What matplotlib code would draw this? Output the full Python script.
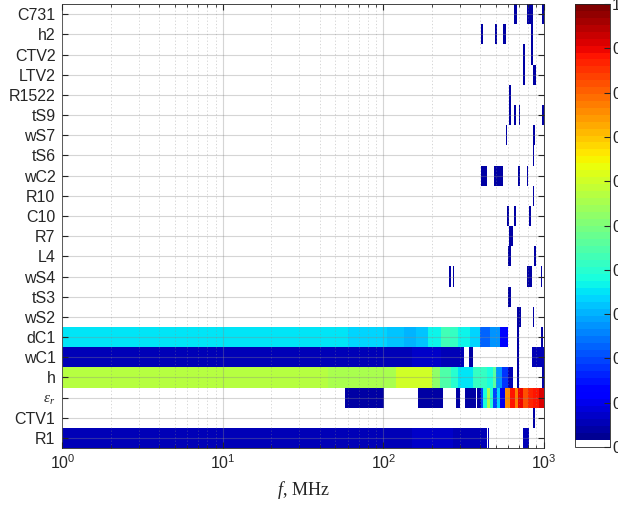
import numpy as np
import matplotlib
matplotlib.use('Agg')
import matplotlib.pyplot as plt
from matplotlib.colors import ListedColormap

# parameter names, top row first
params = ['C731', 'h2', 'CTV2', 'LTV2', 'R1522', 'tS9', 'wS7', 'tS6', 'wC2', 'R10',
          'C10', 'R7', 'L4', 'wS4', 'tS3', 'wS2', 'dC1', 'wC1', 'h', r'$\epsilon_r$',
          'CTV1', 'R1']

# (f_low MHz, f_high MHz, sensitivity) for each parameter
C731 = [(655, 680, 0.04), (790, 850, 0.04), (975, 1000, 0.04)]
h2 = [(403, 419, 0.04), (495, 508, 0.04), (555, 580, 0.04), (830, 860, 0.04)]
CTV2 = [(740, 760, 0.04), (830, 860, 0.04)]
LTV2 = [(740, 760, 0.04), (860, 890, 0.04)]
R1522 = [(605, 625, 0.04)]
tS9 = [(605, 625, 0.04), (655, 670, 0.04), (700, 715, 0.04), (975, 1000, 0.04)]
wS7 = [(580, 592, 0.04), (860, 885, 0.04)]
tS6 = [(850, 870, 0.04)]
wC2 = [(403, 440, 0.04), (490, 560, 0.04), (695, 712, 0.04), (780, 800, 0.04)]
R10 = [(850, 870, 0.04)]
C10 = [(590, 605, 0.04), (650, 670, 0.04), (810, 835, 0.04)]
R7 = [(610, 640, 0.04)]
L4 = [(600, 625, 0.04), (870, 890, 0.04)]
wS4 = [(257, 263, 0.04), (270, 277, 0.04), (780, 845, 0.04), (955, 980, 0.04)]
tS3 = [(600, 625, 0.04)]
wS2 = [(680, 720, 0.04), (855, 870, 0.04)]
dC1 = [(1, 30, 0.35), (30, 60, 0.345), (60, 105, 0.34), (105, 135, 0.32), (135, 160, 0.30),
       (160, 190, 0.32), (190, 230, 0.37), (230, 260, 0.43), (260, 290, 0.41),
       (290, 345, 0.37), (345, 400, 0.33), (400, 460, 0.22), (460, 530, 0.28),
       (530, 600, 0.13), (685, 700, 0.04), (955, 985, 0.04)]
wC1 = [(1, 150, 0.05), (150, 230, 0.07), (230, 307, 0.055), (310, 316, 0.05),
       (343, 360, 0.04), (685, 700, 0.04), (845, 1000, 0.05)]
h = [(1, 45, 0.57), (45, 120, 0.56), (120, 200, 0.60), (200, 225, 0.52), (225, 265, 0.45),
     (265, 290, 0.40), (290, 360, 0.35), (360, 440, 0.41), (440, 480, 0.38),
     (480, 505, 0.46), (505, 550, 0.28), (550, 600, 0.18), (600, 640, 0.06),
     (685, 700, 0.04), (975, 1000, 0.04)]
eps_r = [(57.5, 101, 0.04), (165, 236, 0.04), (283, 300, 0.04), (322, 377, 0.04),
         (385, 405, 0.04), (405, 418, 0.2), (418, 440, 0.38), (440, 460, 0.56),
         (460, 480, 0.40), (480, 510, 0.2), (510, 530, 0.33), (530, 570, 0.1),
         (570, 615, 0.76), (615, 660, 0.88), (660, 690, 0.78), (690, 740, 0.9),
         (740, 800, 0.82), (800, 855, 0.86), (855, 930, 0.88), (930, 1000, 0.92)]
CTV1 = [(860, 880, 0.04)]
R1 = [(1, 150, 0.05), (150, 270, 0.075), (270, 440, 0.055), (448, 458, 0.05),
      (740, 810, 0.05)]

rows = [C731, h2, CTV2, LTV2, R1522, tS9, wS7, tS6, wC2, R10, C10, R7, L4, wS4, tS3,
        wS2, dC1, wC1, h, eps_r, CTV1, R1]

# build the cell matrix on the union of all segment edges
edges = sorted(set([s[0] for r in rows for s in r] + [s[1] for r in rows for s in r] + [1, 1000]))
edges = np.array(edges, dtype=float)
mids = 0.5 * (edges[:-1] + edges[1:])
n = len(params)
Z = np.full((n, len(mids)), np.nan)
for i, r in enumerate(rows):
    for lo, hi, v in r:
        Z[n - 1 - i, (mids > lo) & (mids < hi)] = v

# jet with the lowest bin white
cols = plt.get_cmap('jet', 64)(np.arange(64))
cols[0] = [1, 1, 1, 1]
cmap = ListedColormap(cols)

plt.rcParams['font.family'] = ['Liberation Sans', 'DejaVu Sans']
plt.rcParams['mathtext.fontset'] = 'custom'
plt.rcParams['mathtext.rm'] = 'Liberation Sans'
plt.rcParams['mathtext.it'] = 'Liberation Serif:italic'

fig = plt.figure(figsize=(6.18, 5.08), dpi=100)
ax = fig.add_axes([0.101, 0.118, 0.779, 0.874])
yedges = np.arange(n + 1) - 0.5
mesh = ax.pcolormesh(edges, yedges, Z, cmap=cmap, vmin=0, vmax=1, shading='flat')

ax.set_xscale('log')
ax.set_xlim(1, 1000)
ax.set_ylim(-0.5, n - 0.5)
ax.set_yticks(np.arange(n))
ax.set_yticklabels(params[::-1])
ax.tick_params(axis='both', which='both', direction='in', top=True, right=True,
               color='#262626', labelsize=11.5, labelcolor='#262626')
ax.tick_params(axis='y', pad=5)
ax.tick_params(axis='both', which='major', length=4)
ax.tick_params(axis='x', which='minor', length=2)
for lab in ax.get_yticklabels():
    if 'epsilon' in lab.get_text():
        lab.set_fontsize(11)
ax.set_xlabel(r'$f$, MHz', fontsize=13, family='Liberation Serif', labelpad=5,
              color='#262626')
ax.grid(True, which='major', color='#888888', alpha=0.35, lw=0.8)
ax.grid(True, which='minor', axis='x', color='#888888', alpha=0.4, lw=0.6,
        ls=(0, (1.5, 2.5)))
ax.set_axisbelow(False)
for s in ax.spines.values():
    s.set_color('#262626')
    s.set_linewidth(0.6)

cax = fig.add_axes([0.930, 0.120, 0.057, 0.872])
cb = fig.colorbar(mesh, cax=cax, ticks=np.linspace(0, 1, 11))
cb.ax.tick_params(direction='in', length=4, labelsize=11.5, pad=1.5, color='#262626',
                  labelcolor='#262626')
cb.outline.set_color('#262626')
cb.outline.set_linewidth(0.6)

fig.savefig('out.png', dpi=100)
